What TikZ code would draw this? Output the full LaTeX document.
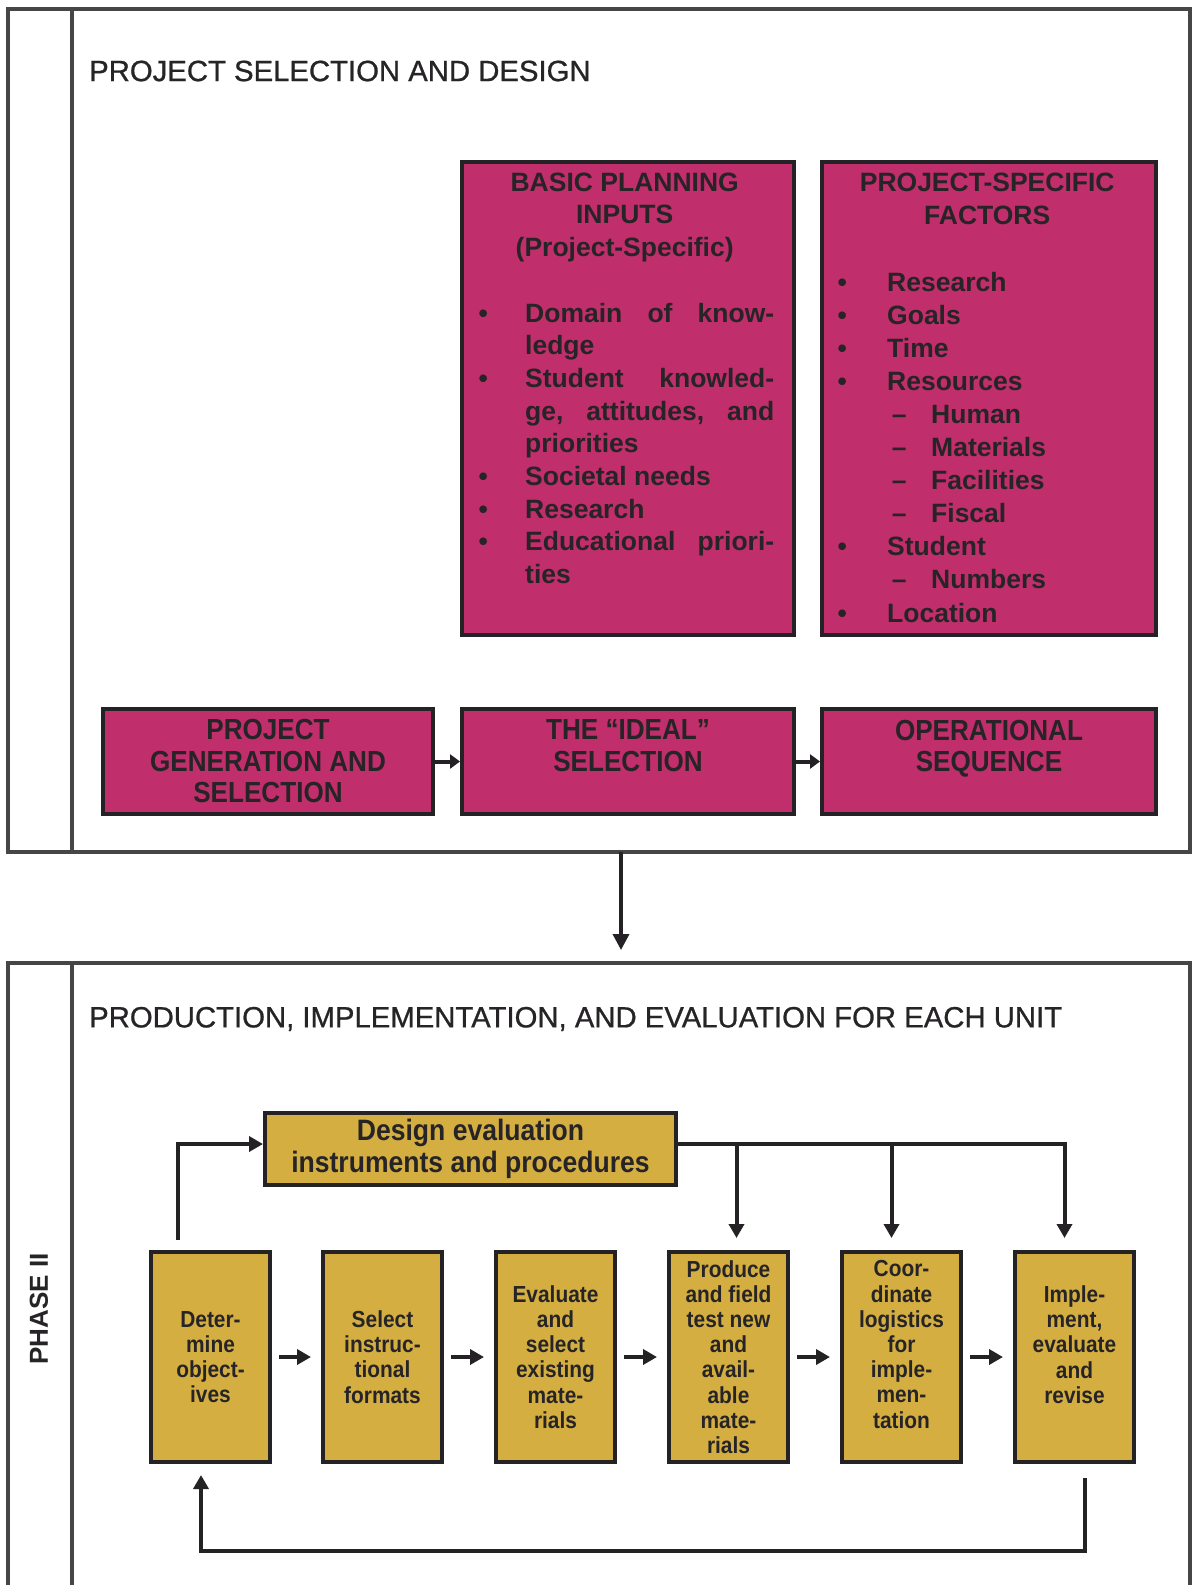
\documentclass[tikz,border=0pt]{standalone}
\usepackage{fontspec}
\setmainfont{Liberation Sans}
\newfontfamily\narrowfont[FakeStretch=0.9]{Liberation Sans}
\newfontfamily\headfont[FakeBold=0.8]{Liberation Sans}
\usetikzlibrary{arrows.meta}

\definecolor{boxmag}{RGB}{192,46,108}
\definecolor{boxgold}{RGB}{212,174,64}
\definecolor{inkdark}{RGB}{36,34,36}
\definecolor{framegray}{RGB}{70,70,70}
\definecolor{textgray}{RGB}{38,36,38}

% one fixed-width text row with a uniform strut
\newdimen\rowwd
\newcommand\rowtext[1]{\hbox to \rowwd{\vrule height20pt depth8pt width0pt #1}}
\newcommand\bul{\hbox to 16pt{\hss\textbullet\hss}}
\newcommand\subdash{\hbox to 16pt{\hss\textendash\hss}}

\begin{document}
\begin{tikzpicture}[x=1pt,y=-1pt,
  framerule/.style={draw=framegray,line width=4pt},
  magbox/.style={draw=inkdark,line width=4pt,fill=boxmag,inner sep=0pt,text=textgray},
  goldbox/.style={draw=inkdark,line width=4pt,fill=boxgold,inner sep=0pt,text=textgray},
  rowbox/.style={magbox,minimum width=330pt,minimum height=105pt,anchor=north west,align=center,
    font=\narrowfont\bfseries\fontsize{29}{31.5}\selectfont},
  stepbox/.style={goldbox,minimum width=119pt,minimum height=210pt,anchor=north west,align=center,
    font=\narrowfont\bfseries\fontsize{23.2}{25.2}\selectfont},
  heading/.style={anchor=west,inner sep=0pt,text=textgray,font=\headfont\fontsize{29.3}{34}\selectfont},
  listtext/.style={anchor=north west,inner sep=0pt,text=textgray},
  flow/.style={draw=inkdark,line width=4pt,-{Triangle[length=14pt,width=15pt]}},
  flowsmall/.style={draw=inkdark,line width=4pt,-{Triangle[length=10pt,width=14pt]}},
]
\fill[white] (0,0) rectangle (1194,1585);
\useasboundingbox (0,0) rectangle (1194,1585);

% ---------- Phase I frame ----------
\draw[framerule] (8,9) rectangle (1190,852);
\draw[framerule] (72,9) -- (72,852);
\node (titleI) [heading] at (89,71) {PROJECT SELECTION AND DESIGN};

% planning inputs
\node (bpi) [magbox,minimum width=332pt,minimum height=473pt,anchor=north west] at (460,160) {};
\node (bpitext) [listtext,font=\bfseries\fontsize{26.5}{32.7}\selectfont] at (475,171) {%
  \rowwd=299pt
  \vbox{\baselineskip=32.7pt
  \rowtext{\hss BASIC PLANNING\hss}
  \rowtext{\hss INPUTS\hss}
  \rowtext{\hss (Project-Specific)\hss}
  \rowtext{}
  \rowtext{\hbox to 50pt{\bul\hss}Domain\hfill of\hfill know-}
  \rowtext{\hskip50pt ledge\hss}
  \rowtext{\hbox to 50pt{\bul\hss}Student\hfill knowled-}
  \rowtext{\hskip50pt ge,\hfill attitudes,\hfill and}
  \rowtext{\hskip50pt priorities\hss}
  \rowtext{\hbox to 50pt{\bul\hss}Societal needs\hss}
  \rowtext{\hbox to 50pt{\bul\hss}Research\hss}
  \rowtext{\hbox to 50pt{\bul\hss}Educational\hfill priori-}
  \rowtext{\hskip50pt ties\hss}}};

% project-specific factors
\node (psf) [magbox,minimum width=334pt,minimum height=473pt,anchor=north west] at (820,160) {};
\node (psftext) [listtext,font=\bfseries\fontsize{26.5}{33.1}\selectfont] at (834,171.5) {%
  \rowwd=306pt
  \vbox{\baselineskip=33.1pt
  \rowtext{\hss PROJECT-SPECIFIC\hss}
  \rowtext{\hss FACTORS\hss}
  \rowtext{}
  \rowtext{\hbox to 53pt{\bul\hss}Research\hss}
  \rowtext{\hbox to 53pt{\bul\hss}Goals\hss}
  \rowtext{\hbox to 53pt{\bul\hss}Time\hss}
  \rowtext{\hbox to 53pt{\bul\hss}Resources\hss}
  \rowtext{\hbox to 97pt{\hskip57pt\subdash\hss}Human\hss}
  \rowtext{\hbox to 97pt{\hskip57pt\subdash\hss}Materials\hss}
  \rowtext{\hbox to 97pt{\hskip57pt\subdash\hss}Facilities\hss}
  \rowtext{\hbox to 97pt{\hskip57pt\subdash\hss}Fiscal\hss}
  \rowtext{\hbox to 53pt{\bul\hss}Student\hss}
  \rowtext{\hbox to 97pt{\hskip57pt\subdash\hss}Numbers\hss}
  \rowtext{\hbox to 53pt{\bul\hss}Location\hss}}};

% selection sequence
\node (gen)   [rowbox] at (101,707) {PROJECT\\GENERATION AND\\SELECTION};
\node (ideal) [rowbox,minimum width=332pt] at (460,707) {THE “IDEAL”\\SELECTION\\\mbox{}};
\node (oper)  [rowbox,minimum width=334pt] at (820,707) {OPERATIONAL\\SEQUENCE\\\mbox{}};
\draw[flowsmall] (gen.east) -- (ideal.west);
\draw[flowsmall] (ideal.east) -- (oper.west);

% link between the phases
\coordinate (phIout) at (621,852);
\coordinate (phIIin) at (621,950);
\draw[draw=inkdark,line width=3.5pt,-{Triangle[length=16pt,width=16pt]}] (phIout) -- (phIIin);

% ---------- Phase II frame ----------
\draw[framerule] (8,1590) -- (8,963) -- (1190,963) -- (1190,1590);
\draw[framerule] (72,963) -- (72,1590);
\node (phase) [rotate=90,inner sep=0pt,text=textgray,font=\bfseries\fontsize{26}{30}\selectfont] at (39,1309) {PHASE II};
\node (titleII) [heading] at (89,1019) {PRODUCTION, IMPLEMENTATION, AND EVALUATION FOR EACH UNIT};

\node (design) [goldbox,minimum width=411pt,minimum height=72pt,anchor=north west,align=center,
  font=\narrowfont\bfseries\fontsize{29.5}{32}\selectfont] at (263,1111)
  {Design evaluation\\instruments and procedures};

\node (s1) [stepbox] at (149,1250)  {Deter-\\mine\\object-\\ives};
\node (s2) [stepbox] at (321,1250)  {Select\\instruc-\\tional\\formats};
\node (s3) [stepbox] at (494,1250)  {Evaluate\\and\\select\\existing\\mate-\\rials};
\node (s4) [stepbox] at (667,1250)  {Produce\\and field\\test new\\and\\avail-\\able\\mate-\\rials};
\node (s5) [stepbox] at (840,1250)  {Coor-\\dinate\\logistics\\for\\imple-\\men-\\tation\\\mbox{}};
\node (s6) [stepbox] at (1013,1250) {Imple-\\ment,\\evaluate\\and\\revise\\\mbox{}};

\foreach \a/\b in {s1/s2,s2/s3,s3/s4,s4/s5,s5/s6}
  \draw[flow,shorten <=7pt,shorten >=10pt] (\a.east) -- (\b.west);

% objectives feed the evaluation design
\draw[flow] ([xshift=29pt,yshift=10pt]s1.north west) |- ([yshift=5pt]design.west);

% evaluation design feeds the later steps
\coordinate (busstart) at ([yshift=5pt]design.east);
\coordinate (drop4) at ([xshift=8pt,yshift=12pt]s4.north);
\coordinate (drop5) at ([xshift=-10pt,yshift=12pt]s5.north);
\coordinate (drop6) at ([xshift=-10pt,yshift=12pt]s6.north);
\draw[flow] (busstart) -| (drop6);
\draw[flow] (drop4 |- busstart) -- (drop4);
\draw[flow] (drop5 |- busstart) -- (drop5);

% revision loop back to the objectives
\coordinate (fbstart) at ([xshift=10pt,yshift=-14pt]s6.south);
\coordinate (fbend) at ([xshift=-9.5pt,yshift=-11pt]s1.south);
\draw[flow] (fbstart) -- ++(0,73) -| (fbend);
\end{tikzpicture}
\end{document}
